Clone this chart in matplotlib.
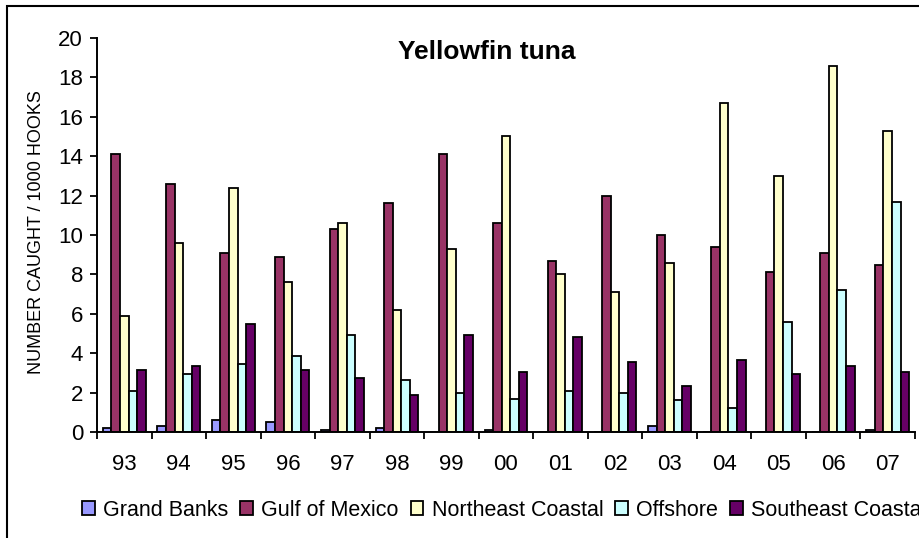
import numpy as np
import matplotlib.pyplot as plt
from matplotlib.patches import Rectangle

plt.rcParams['font.family'] = ['Liberation Sans', 'DejaVu Sans']

years = ['93', '94', '95', '96', '97', '98', '99', '00', '01', '02', '03', '04', '05', '06', '07']
series_names = ['Grand Banks', 'Gulf of Mexico', 'Northeast Coastal', 'Offshore', 'Southeast Coastal']

grand_banks = [0.2, 0.3, 0.6, 0.5, 0.1, 0.2, 0.0, 0.1, 0.0, 0.0, 0.3, 0.0, 0.0, 0.0, 0.1]
gulf_of_mexico = [14.1, 12.6, 9.1, 8.9, 10.3, 11.6, 14.1, 10.6, 8.7, 12.0, 10.0, 9.4, 8.1, 9.1, 8.5]
northeast_coastal = [5.9, 9.6, 12.4, 7.6, 10.6, 6.2, 9.3, 15.0, 8.0, 7.1, 8.6, 16.7, 13.0, 18.6, 15.3]
offshore = [2.1, 2.95, 3.45, 3.85, 4.9, 2.65, 2.0, 1.7, 2.1, 2.0, 1.6, 1.2, 5.6, 7.2, 11.7]
southeast_coastal = [3.15, 3.35, 5.5, 3.15, 2.75, 1.9, 4.9, 3.05, 4.8, 3.55, 2.35, 3.65, 2.95, 3.35, 3.05]

colors = ['#9999FF', '#993366', '#FFFFCC', '#CCFFFF', '#660066']

fig = plt.figure(figsize=[9.2, 5.38], dpi=100)
ax = fig.add_axes([97/920, 1 - 432/538, (915 - 97)/920, (432 - 38)/538])

x = np.arange(len(years)) + 0.5
w = 0.157
data = [grand_banks, gulf_of_mexico, northeast_coastal, offshore, southeast_coastal]
handles = []
for k, vals in enumerate(data):
    b = ax.bar(x + (k - 2)*w, vals, width=w, color=colors[k], edgecolor='black',
               linewidth=1.3, label=series_names[k])
    handles.append(b)

ax.set_xlim(0, len(years))
ax.set_ylim(0, 20)
ax.set_yticks(np.arange(0, 21, 2))
ax.set_xticks(x)
ax.set_xticklabels(years)
ax.set_xticks(np.arange(0, len(years) + 1), minor=True)
ax.tick_params(axis='x', which='major', length=0, pad=16, labelsize=16)
ax.tick_params(axis='x', which='minor', length=5, width=1.3, direction='out')
ax.tick_params(axis='y', length=5, width=1.3, direction='out', pad=5, labelsize=16)
for s in ['top', 'right']:
    ax.spines[s].set_visible(False)
for s in ['left', 'bottom']:
    ax.spines[s].set_linewidth(1.4)

fig.text(487/920, 1 - 52/538, 'Yellowfin tuna', fontsize=19, fontweight='bold',
         ha='center', va='center')
fig.text(36.5/920, 1 - 232/538, 'NUMBER CAUGHT / 1000 HOOKS', rotation=90,
         ha='center', va='center', fontsize=13)

leg = fig.legend(handles, series_names, loc='center left', bbox_to_anchor=(82/920, 1 - 510/538),
                 ncol=5, frameon=False, fontsize=15.5, handlelength=0.6, handleheight=0.6,
                 handletextpad=0.38, columnspacing=0.55, borderaxespad=0, borderpad=0)

border = Rectangle((7/920, -0.2), 1.5, 1.2 - 6/538, transform=fig.transFigure,
                   fill=False, edgecolor='black', linewidth=1.5, clip_on=False)
fig.add_artist(border)

plt.savefig('out.png', dpi=100)
